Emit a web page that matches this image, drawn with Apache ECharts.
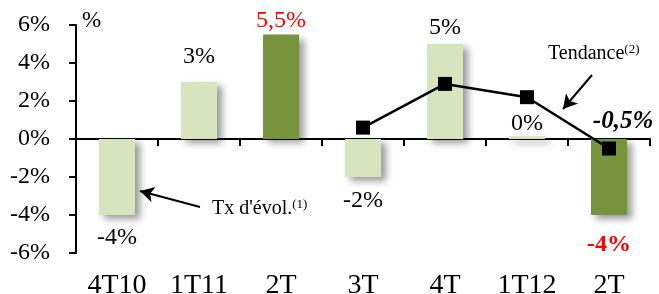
<!DOCTYPE html>
<html>
<head>
<meta charset="utf-8">
<script src="https://cdn.jsdelivr.net/npm/echarts@6/dist/echarts.min.js"></script>
<style>
  html, body { margin: 0; padding: 0; background: #fff; }
  #chart { width: 659px; height: 294px; }
</style>
</head>
<body>
<div id="chart"></div>
<script>
// data
const categories = ['4T10', '1T11', '2T', '3T', '4T', '1T12', '2T'];
const evolValues = [-4, 3, 5.5, -2, 5, 0.15, -4];
const evolLabels = ['-4%', '3%', '5,5%', '-2%', '5%', '0%', '-4%'];
const trendValues = [null, null, null, 0.6, 2.9, 2.2, -0.5];
const trendLabel = '-0,5%';

const light = '#d7e4bd';
const dark = '#77933c';
const font = '"Liberation Serif", "Times New Roman", serif';

const chart = echarts.init(document.getElementById('chart'));

// per-bar look (colour / label style)
const barStyle = [
  { color: light, dist: 11, label: { color: '#000' } },
  { color: light, dist: 13, label: { color: '#000' } },
  { color: dark, dist: 2, label: { color: '#ff0000' } },
  { color: light, dist: 12, label: { color: '#000' } },
  { color: light, dist: 4, label: { color: '#000' } },
  { color: light, dist: 0, label: { color: '#000' } },
  { color: dark, dist: 18, label: { color: '#ff0000', fontWeight: 'bold' } }
];

const barData = evolValues.map((v, i) => ({
  value: v,
  itemStyle: { color: barStyle[i].color },
  label: Object.assign({
    position: v < 0 ? 'bottom' : 'top',
    distance: barStyle[i].dist,
    formatter: evolLabels[i]
  }, barStyle[i].label)
}));

const lineData = trendValues.map((v, i) => {
  if (i === trendValues.length - 1) {
    return {
      value: v,
      label: {
        show: true,
        formatter: trendLabel,
        position: 'top',
        offset: [14, -2],
        fontFamily: font,
        fontSize: 25,
        fontWeight: 'bold',
        fontStyle: 'italic',
        color: '#000'
      }
    };
  }
  return v;
});

const sup = { fontSize: 13, fontFamily: font, verticalAlign: 'top', padding: [0, 0, 9, 0] };

chart.setOption({
  animation: false,
  textStyle: { fontFamily: font },
  grid: { left: 76, right: 9, top: 25, bottom: 41, outerBoundsMode: 'none', containLabel: false },
  xAxis: [
    {
      type: 'category',
      data: categories,
      position: 'bottom',
      axisLine: { show: false, onZero: false },
      axisTick: { show: false },
      axisLabel: { color: '#000', fontSize: 28, fontFamily: font, margin: 19 }
    },
    {
      type: 'category',
      data: categories,
      position: 'bottom',
      axisLine: { show: true, onZero: true, lineStyle: { color: '#000', width: 2 } },
      axisTick: { show: true, inside: false, length: 7, lineStyle: { color: '#000', width: 2 } },
      axisLabel: { show: false }
    }
  ],
  yAxis: {
    type: 'value',
    min: -6,
    max: 6,
    interval: 2,
    splitLine: { show: false },
    axisLine: { show: true, lineStyle: { color: '#000', width: 2 } },
    axisTick: { show: true, length: 7, lineStyle: { color: '#000', width: 2 } },
    axisLabel: {
      color: '#000',
      fontSize: 24,
      fontFamily: font,
      margin: 26,
      formatter: '{value}%'
    }
  },
  series: [
    {
      name: "Tx d'évol.",
      type: 'bar',
      data: barData,
      barWidth: 36,
      itemStyle: {
        shadowColor: 'rgba(0,0,0,0.4)',
        shadowBlur: 7,
        shadowOffsetX: 5,
        shadowOffsetY: 4
      },
      label: { show: true, fontSize: 24, fontFamily: font },
      markLine: {
        silent: true,
        symbol: ['none', 'arrow'],
        symbolSize: [12, 14],
        lineStyle: { color: '#000', width: 2, type: 'solid' },
        label: { show: false },
        data: [
          [{ x: 200, y: 207 }, { x: 140, y: 191 }],
          [{ x: 592, y: 75 }, { x: 563, y: 109 }]
        ]
      }
    },
    {
      name: 'Tendance',
      type: 'line',
      xAxisIndex: 1,
      data: lineData,
      symbol: 'rect',
      symbolSize: 14,
      connectNulls: false,
      lineStyle: { color: '#000', width: 2.5 },
      itemStyle: { color: '#000' },
      z: 5
    }
  ],
  graphic: [
    {
      type: 'text',
      left: 82,
      top: 9,
      style: { text: '%', font: '23px ' + font, fill: '#000' }
    },
    {
      type: 'text',
      left: 212,
      top: 198,
      style: {
        text: "Tx d'évol.{s|(1)}",
        font: '20px ' + font,
        fill: '#000',
        rich: { s: sup }
      }
    },
    {
      type: 'text',
      left: 548,
      top: 43,
      style: {
        text: 'Tendance{s|(2)}',
        font: '20px ' + font,
        fill: '#000',
        rich: { s: sup }
      }
    }
  ]
});
</script>
</body>
</html>
